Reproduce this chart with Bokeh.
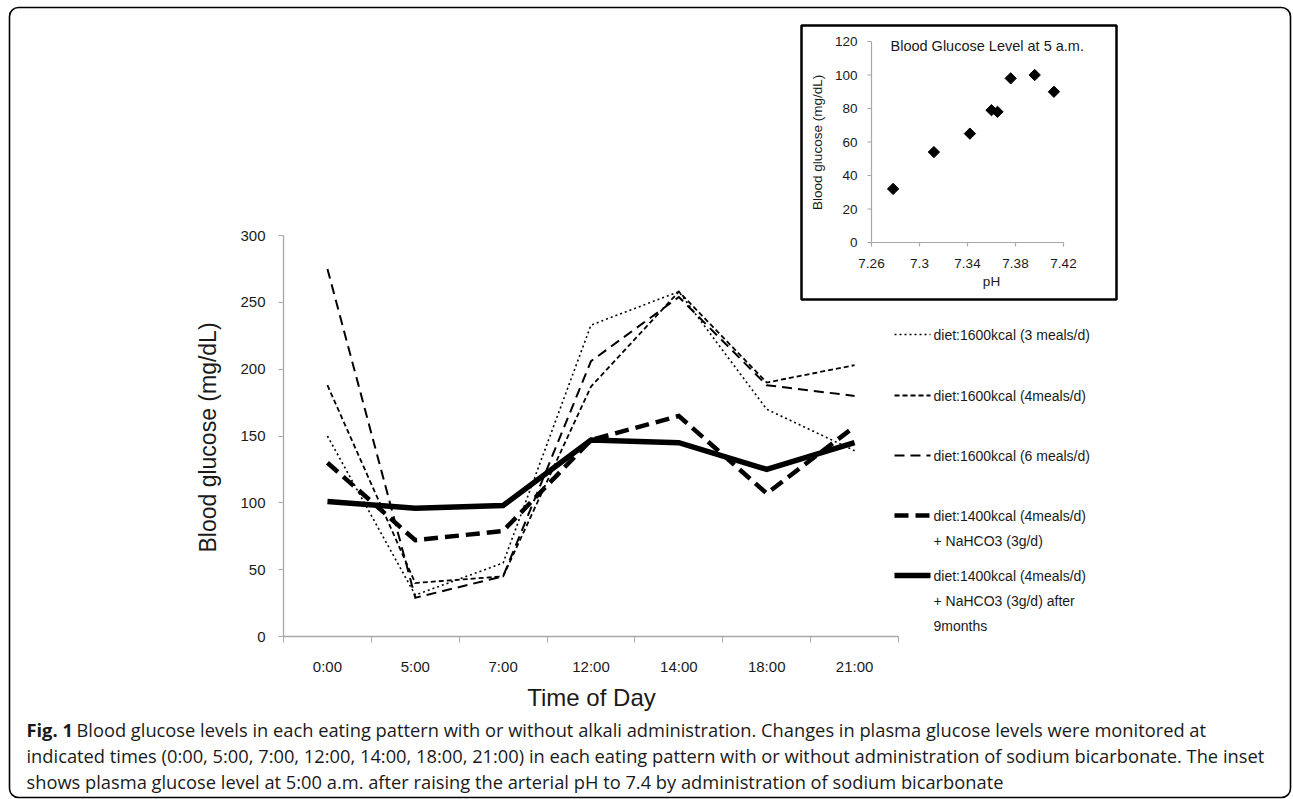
import math
from bokeh.plotting import figure
from bokeh.models import Range1d, FixedTicker, LinearAxis, Label, BoxAnnotation
from bokeh.core.properties import value
from bokeh.embed import file_html
from bokeh.resources import INLINE

# ---------------- data ----------------
times = ["0:00", "5:00", "7:00", "12:00", "14:00", "18:00", "21:00"]
meals3_1600 = [150, 31, 55, 233, 258, 170, 139]
meals4_1600 = [188, 40, 45, 187, 258, 190, 203]
meals6_1600 = [275, 29, 45, 206, 254, 188, 180]
nahco3_1400 = [130, 72, 79, 147, 165, 107, 157]
nahco3_1400_9m = [101, 96, 98, 147, 145, 125, 145]
main_yticks = [0, 50, 100, 150, 200, 250, 300]

legend_labels = [
    "diet:1600kcal (3 meals/d)",
    "diet:1600kcal (4meals/d)",
    "diet:1600kcal (6 meals/d)",
    "diet:1400kcal (4meals/d)\n+ NaHCO3 (3g/d)",
    "diet:1400kcal (4meals/d)\n+ NaHCO3 (3g/d) after\n9months",
]

inset_ph = [7.278, 7.312, 7.342, 7.360, 7.365, 7.376, 7.396, 7.412]
inset_glucose = [32, 54, 65, 79, 78, 98, 100, 90]
inset_xticks = [7.26, 7.30, 7.34, 7.38, 7.42]
inset_yticks = [0, 20, 40, 60, 80, 100, 120]

caption_bold = "Fig. 1"
caption_lines = [
    "Blood glucose levels in each eating pattern with or without alkali administration. Changes in plasma glucose levels were monitored at",
    "indicated times (0:00, 5:00, 7:00, 12:00, 14:00, 18:00, 21:00) in each eating pattern with or without administration of sodium bicarbonate. The inset",
    "shows plasma glucose level at 5:00 a.m. after raising the arterial pH to 7.4 by administration of sodium bicarbonate",
]

# ---------------- layout (picture pixels) ----------------
W, H = 1293, 799
AX_L, AX_R, AX_T, AX_B = 283, 898, 235, 636
Y_MAX = 300
px_per_cat = (AX_R - AX_L) / len(times)
px_per_unit = (AX_B - AX_T) / Y_MAX


def X(px):
    return (px - AX_L) / px_per_cat


def Y(py):
    return (AX_B - py) / px_per_unit


# inset geometry
INS_X0, INS_X1, INS_Y0, INS_Y1 = 7.26, 7.42, 0, 120
INS_PX_L, INS_PX_R, INS_PY_B, INS_PY_T = 871, 1063, 242, 41
ipx_x = (INS_PX_R - INS_PX_L) / (INS_X1 - INS_X0)
ipx_y = (INS_PY_B - INS_PY_T) / (INS_Y1 - INS_Y0)


def IX(px):
    return INS_X0 + (px - INS_PX_L) / ipx_x


def IY(py):
    return INS_Y0 + (INS_PY_B - py) / ipx_y


GRAY = "#a8a8a8"
TXT = "#1a1a1a"
FONT = "Liberation Sans"

p = figure(width=W, height=H, x_range=Range1d(X(0), X(W)), y_range=Range1d(Y(H), Y(0)),
           x_axis_type=None, y_axis_type=None, output_backend="svg", toolbar_location=None,
           min_border=0)
p.outline_line_color = None
p.xgrid.visible = False
p.ygrid.visible = False
p.background_fill_color = "white"
p.border_fill_color = "white"
p.extra_x_ranges = {"ins": Range1d(IX(0), IX(W))}
p.extra_y_ranges = {"ins": Range1d(IY(H), IY(0))}

# ---------------- axes (fixed inside the frame) ----------------
yax = LinearAxis(bounds=(0, Y_MAX), fixed_location=0, ticker=FixedTicker(ticks=main_yticks),
                 axis_line_color=GRAY, axis_line_width=1.3,
                 major_tick_line_color=GRAY, major_tick_out=5, major_tick_in=0,
                 minor_tick_line_color=None,
                 major_label_text_font=FONT, major_label_text_font_size="15px",
                 major_label_text_color=TXT, major_label_standoff=13)
p.add_layout(yax, "left")

xpos = [i + 0.5 for i in range(len(times))]
xax = LinearAxis(bounds=(0, len(times)), fixed_location=0,
                 ticker=FixedTicker(ticks=xpos, minor_ticks=list(range(len(times) + 1))),
                 axis_line_color=GRAY, axis_line_width=1.3,
                 major_tick_line_color=None, major_tick_out=0, major_tick_in=0,
                 minor_tick_line_color=GRAY, minor_tick_out=6, minor_tick_in=0,
                 major_label_overrides={x: t for x, t in zip(xpos, times)},
                 major_label_text_font=FONT, major_label_text_font_size="15px",
                 major_label_text_color=TXT, major_label_standoff=15)
p.add_layout(xax, "below")

# ---------------- series ----------------
styles = [
    dict(line_width=1.6, line_dash="2 3"),
    dict(line_width=1.8, line_dash="5 3"),
    dict(line_width=2.0, line_dash="10 6"),
    dict(line_width=4.5, line_dash="14 7"),
    dict(line_width=5.5, line_dash="solid"),
]
series = [meals3_1600, meals4_1600, meals6_1600, nahco3_1400, nahco3_1400_9m]
for vals, st in zip(series, styles):
    p.line(xpos, vals, line_color="black", line_join="miter", **st)

# ---------------- legend (manual) ----------------
rows = [334, 395, 455, 515, 575]
for lab, st, r in zip(legend_labels, styles, rows):
    p.line([X(894), X(930)], [Y(r), Y(r)], line_color="black", **st)
    parts = lab.split("\n")
    p.text([X(933)] * len(parts), [Y(r + 25 * k) for k in range(len(parts))], text=parts,
           text_font=value(FONT), text_font_size="14px", text_color=TXT,
           text_baseline="middle", text_align="left")

# ---------------- axis titles ----------------
p.add_layout(Label(x=X(207), y=Y(437), text="Blood glucose (mg/dL)", angle=math.pi / 2,
                   text_align="center", text_baseline="middle", text_font=FONT,
                   text_font_size="23px", text_color=TXT))
p.add_layout(Label(x=X(591), y=Y(697), text="Time of Day", text_align="center",
                   text_baseline="middle", text_font=FONT, text_font_size="24px",
                   text_color=TXT))

# ---------------- inset ----------------
p.add_layout(BoxAnnotation(left=X(801), right=X(1116), top=Y(25), bottom=Y(299),
                           fill_color="white", fill_alpha=1.0, line_color="black",
                           line_alpha=1.0, line_width=2.5, level="underlay"))
kw = dict(x_range_name="ins", y_range_name="ins")
tick_x = 4 / ipx_x
tick_y = 4 / ipx_y
p.segment([INS_X0], [INS_Y0], [INS_X0], [INS_Y1], line_color=GRAY, line_width=1.2, **kw)
p.segment([INS_X0], [INS_Y0], [INS_X1], [INS_Y0], line_color=GRAY, line_width=1.2, **kw)
p.segment([INS_X0 - tick_x] * len(inset_yticks), inset_yticks, [INS_X0] * len(inset_yticks),
          inset_yticks, line_color=GRAY, line_width=1.2, **kw)
p.segment(inset_xticks, [INS_Y0] * len(inset_xticks), inset_xticks,
          [INS_Y0 - tick_y] * len(inset_xticks), line_color=GRAY, line_width=1.2, **kw)
p.text([INS_X0 - 14 / ipx_x] * len(inset_yticks), inset_yticks,
       text=[f"{v:g}" for v in inset_yticks], text_font=value(FONT), text_font_size="13.5px",
       text_color=TXT, text_align="right", text_baseline="middle", **kw)
p.text(inset_xticks, [IY(263)] * len(inset_xticks), text=[f"{v:g}" for v in inset_xticks],
       text_font=value(FONT), text_font_size="13.5px", text_color=TXT,
       text_align="center", text_baseline="middle", **kw)
p.text([IX(991)], [IY(281)], text=["pH"], text_font=value(FONT), text_font_size="13.5px",
       text_color=TXT, text_align="center", text_baseline="middle", **kw)
p.text([IX(817)], [IY(140)], text=["Blood glucose  (mg/dL)"], angle=math.pi / 2,
       text_font=value(FONT), text_font_size="13.5px", text_color=TXT,
       text_align="center", text_baseline="middle", **kw)
p.text([IX(890)], [IY(45)], text=["Blood Glucose Level at 5 a.m."], text_font=value(FONT),
       text_font_size="14.5px", text_color=TXT, text_align="left", text_baseline="middle", **kw)
p.scatter(inset_ph, inset_glucose, marker="square", angle=math.pi / 4, size=8,
          color="black", **kw)

# ---------------- caption ----------------
CAP_FONT = "Open Sans"
CAP_SIZE = "18.3px"
p.add_layout(Label(x=X(26), y=Y(729), text=caption_bold, text_font=CAP_FONT,
                   text_font_style="bold", text_font_size=CAP_SIZE, text_color=TXT,
                   text_baseline="middle", text_align="left"))
cap_y = [729, 755, 781]
cap_x = [76, 26, 26]
for t, cx, cy in zip(caption_lines, cap_x, cap_y):
    p.add_layout(Label(x=X(cx), y=Y(cy), text=t, text_font=CAP_FONT, text_font_size=CAP_SIZE,
                       text_color=TXT, text_baseline="middle", text_align="left"))

# ---------------- outer rounded border ----------------
p.add_layout(BoxAnnotation(left=X(9), right=X(1290), top=Y(7), bottom=Y(797),
                           fill_alpha=0, line_color="black", line_alpha=1.0,
                           line_width=1.6, border_radius=9))

open("out.html", "w").write(file_html(p, INLINE))
